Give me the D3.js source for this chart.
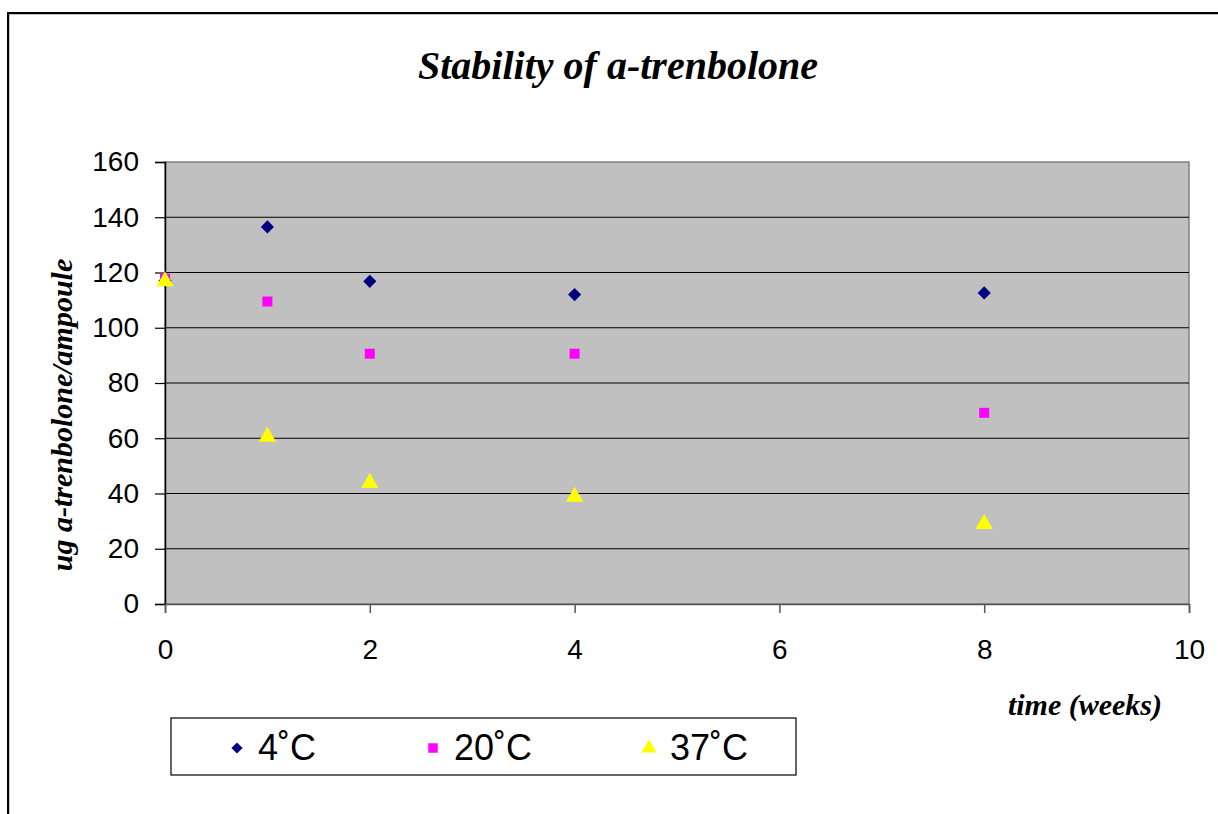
<!DOCTYPE html>
<html lang="en">
<head>
<meta charset="UTF-8">
<script src="https://cdn.jsdelivr.net/npm/d3@7/dist/d3.min.js"></script>
<title>Stability of a-trenbolone</title>
<style>
    body { margin: 0; background: #fff; }
    svg { display: block; }
    .tick text { font-family: Arial, "Liberation Sans", sans-serif; font-size: 28px; fill: #000; }
    .ttl { font-family: "Times New Roman", "Liberation Serif", serif; font-weight: bold; font-style: italic; }
</style>
</head>
<body>
<script>
    // ---- data ----
    const weeks = [0, 1, 2, 4, 8];
    const seriesNames = ["4\u02DAC", "20\u02DAC", "37\u02DAC"];
    const temp4 = [117, 136.5, 116.8, 112, 112.6];
    const temp20 = [117.8, 109.5, 90.6, 90.6, 69.2];
    const temp37 = [116.8, 60.5, 43.8, 38.8, 29];
    const seriesColors = ["#000080", "#FF00FF", "#FFFF00"];
    const seriesSymbols = [d3.symbolDiamond2, d3.symbolSquare, d3.symbolTriangle];
    const yTicks = [0, 20, 40, 60, 80, 100, 120, 140, 160];
    const xTicks = [0, 2, 4, 6, 8, 10];

    const W = 1218, H = 814;
    const plot = {left: 165, right: 1189, top: 162, bottom: 604};

    const svg = d3.select("body").append("svg").attr("width", W).attr("height", H);

    // outer chart border (runs off the page at right/bottom)
    svg.append("rect").attr("x", 9).attr("y", 14).attr("width", 1230).attr("height", 830)
        .attr("fill", "none").attr("stroke", "#888").attr("stroke-width", 1);
    svg.append("rect").attr("x", 8).attr("y", 13).attr("width", 1230).attr("height", 830)
        .attr("fill", "none").attr("stroke", "#000").attr("stroke-width", 2);

    const x = d3.scaleLinear().domain([0, 10]).range([plot.left, plot.right]);
    const y = d3.scaleLinear().domain([0, 160]).range([plot.bottom, plot.top]);

    // plot background
    svg.append("rect").attr("x", plot.left).attr("y", plot.top)
        .attr("width", plot.right - plot.left).attr("height", plot.bottom - plot.top)
        .attr("fill", "#C0C0C0").attr("stroke", "#808080").attr("stroke-width", 1.5);

    // gridlines
    svg.append("g").selectAll("line").data(yTicks.filter(d => d > 0 && d < 160)).join("line")
        .attr("x1", plot.left).attr("x2", plot.right)
        .attr("y1", d => y(d)).attr("y2", d => y(d))
        .attr("stroke", "#000").attr("stroke-width", 1.2);

    // axes
    const yAxis = svg.append("g").attr("transform", `translate(${plot.left},0)`)
        .call(d3.axisLeft(y).tickValues(yTicks).tickSize(10).tickPadding(16));
    yAxis.select(".domain").attr("stroke", "#000").attr("stroke-width", 1.5);
    yAxis.selectAll(".tick line").attr("stroke", "#000").attr("stroke-width", 1.2);

    const xAxis = svg.append("g").attr("transform", `translate(0,${plot.bottom})`)
        .call(d3.axisBottom(x).tickValues(xTicks).tickSize(9).tickPadding(26));
    xAxis.select(".domain").attr("stroke", "#555").attr("stroke-width", 1.5);
    xAxis.selectAll(".tick line").attr("stroke", "#555").attr("stroke-width", 1.5);

    // markers
    const allSeries = [temp4, temp20, temp37];
    const symSizes = [110, 100, 130];
    allSeries.forEach((vals, i) => {
        svg.append("g").selectAll("path").data(weeks.map((w, j) => [w, vals[j]])).join("path")
            .attr("transform", d => `translate(${x(d[0])},${y(d[1])})`)
            .attr("d", d3.symbol().type(seriesSymbols[i]).size(symSizes[i]))
            .attr("fill", seriesColors[i]);
    });

    // title and axis titles
    svg.append("text").attr("class", "ttl").attr("x", 618).attr("y", 79)
        .attr("text-anchor", "middle").attr("font-size", 40).text("Stability of a-trenbolone");
    svg.append("text").attr("class", "ttl").attr("transform", "translate(72,415) rotate(-90)")
        .attr("text-anchor", "middle").attr("font-size", 30).text("ug a-trenbolone/ampoule");
    svg.append("text").attr("class", "ttl").attr("x", 1162).attr("y", 715)
        .attr("text-anchor", "end").attr("font-size", 30).text("time (weeks)");

    // legend
    const legend = svg.append("g");
    legend.append("rect").attr("x", 171).attr("y", 718).attr("width", 625).attr("height", 57)
        .attr("fill", "#fff").attr("stroke", "#000").attr("stroke-width", 1.2);
    const legX = [237, 433, 649];
    seriesNames.forEach((name, i) => {
        legend.append("path").attr("transform", `translate(${legX[i]},${748})`)
            .attr("d", d3.symbol().type(seriesSymbols[i]).size([80, 90, 100][i]))
            .attr("fill", seriesColors[i]);
        legend.append("text").attr("x", legX[i] + 21).attr("y", 760)
            .attr("font-family", "Arial, 'Liberation Sans', sans-serif").attr("font-size", 36)
            .text(name);
    });
</script>
</body>
</html>
